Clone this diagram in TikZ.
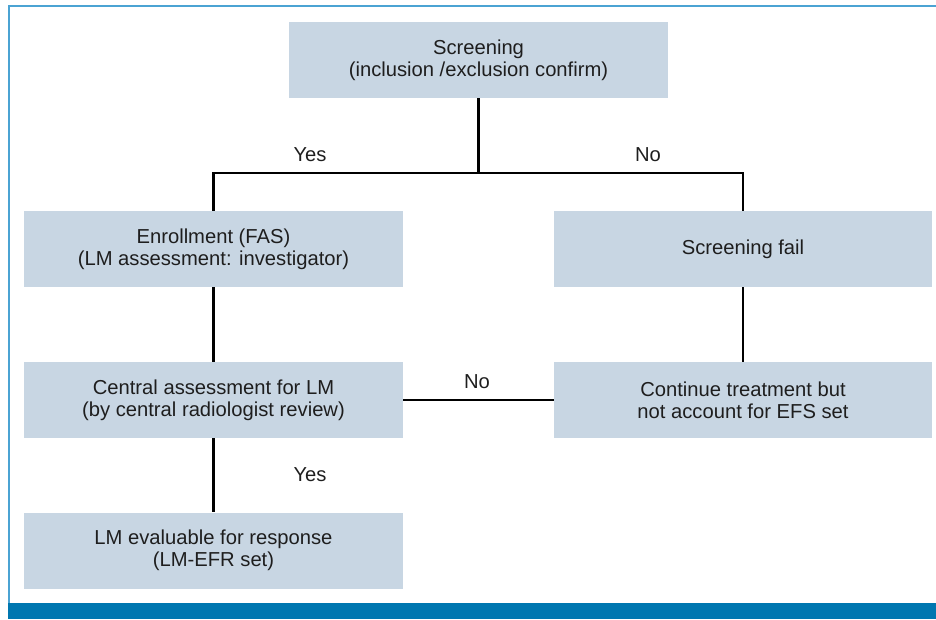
\documentclass[tikz,border=0pt]{standalone}
\usepackage{fontspec}
\setmainfont{Liberation Sans}
\definecolor{boxfill}{HTML}{C8D6E3}
\definecolor{frameline}{HTML}{4BA3D3}
\definecolor{barblue}{HTML}{0077B0}
\definecolor{txt}{HTML}{1E1E1E}
\begin{document}
\begin{tikzpicture}[x=1pt,y=-1pt,
  flowbox/.style={rectangle, fill=boxfill, inner sep=0pt, align=center, text=txt,
    font=\fontsize{20.2}{22}\selectfont},
  lbl/.style={text=txt, inner sep=0pt, font=\fontsize{20.2}{22}\selectfont},
  conn/.style={line width=2.2pt, black}]
\useasboundingbox (0,0) rectangle (936,619);
% frame
\draw[frameline, line width=2pt] (8.5,603) -- (8.5,5.5) -- (936,5.5);
\fill[barblue] (7.5,603) rectangle (936,619);
% boxes
\node[flowbox, minimum width=379pt, minimum height=76pt] (scr) at (478.5,60) {Screening\\(inclusion /exclusion confirm)};
\node[flowbox, minimum width=379pt, minimum height=76pt] (enr) at (213.5,249) {Enrollment (FAS)\\(LM assessment: investigator)};
\node[flowbox, minimum width=378pt, minimum height=76pt] (fail) at (743,249) {Screening fail};
\node[flowbox, minimum width=379pt, minimum height=76pt] (cen) at (213.5,400) {Central assessment for LM\\(by central radiologist review)};
\node[flowbox, minimum width=378pt, minimum height=76pt] (cont) at (743,400) {Continue treatment but\\not account for EFS set};
\node[flowbox, minimum width=379pt, minimum height=76pt] (lme) at (213.5,550.5) {LM evaluable for response\\(LM-EFR set)};
% connectors
\coordinate (split) at (478.5,173);
\draw[conn] (scr.south) -- (split);
\draw[conn] (enr.north) |- (split) -| (fail.north);
\draw[conn] (enr.south) -- (cen.north);
\draw[conn] (fail.south) -- (cont.north);
\draw[conn] (cen.east) -- (cont.west);
\draw[conn] (cen.south) -- (lme.north);
% labels
\node[lbl] (yes1) at (310,155) {Yes};
\node[lbl] (no1) at (648,155) {No};
\node[lbl] (no2) at (477,382) {No};
\node[lbl] (yes2) at (310,475) {Yes};
\end{tikzpicture}
\end{document}
